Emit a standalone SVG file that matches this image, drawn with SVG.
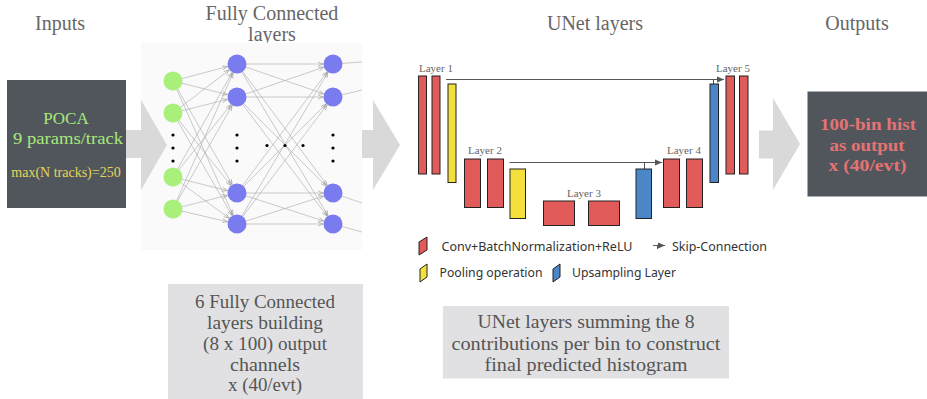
<svg xmlns="http://www.w3.org/2000/svg" width="927" height="399" viewBox="0 0 927 399">
<style>
.title{font-family:"Liberation Serif",serif;font-size:20px;fill:#666;text-anchor:middle}
.lbl{font-family:"Liberation Serif",serif;font-size:11px;fill:#666}
.note{font-family:"Liberation Serif",serif;font-size:18px;fill:#555;text-anchor:middle}
.leg{font-family:"Noto Sans","DejaVu Sans",sans-serif;font-size:13px;fill:#333}
.inp{font-family:"Liberation Serif",serif;text-anchor:middle}
.outt{font-family:"Liberation Serif",serif;font-size:17px;font-weight:bold;fill:#e57373;text-anchor:middle}
.fc{stroke:#a8a8a8;stroke-width:0.6;fill:none;marker-end:url(#ah)}
.out{stroke:#a8a8a8;stroke-width:0.6;fill:none}
.g{fill:#a8f07a}
.b{fill:#7b7bf0}
.dot{fill:#000}
.red{fill:#e25b5b;stroke:#222;stroke-width:1}
.yel{fill:#f4e03c;stroke:#222;stroke-width:1}
.blu{fill:#4a86c8;stroke:#222;stroke-width:1}
.skip{stroke:#555;stroke-width:1;fill:none}
.bigarrow{fill:#d9d9d9}
.dark{fill:#51565d}
</style>
<defs>
<marker id="ah" markerUnits="userSpaceOnUse" markerWidth="20" markerHeight="6" refX="15" refY="2" orient="auto" overflow="visible">
<path d="M0,0 L5,2 L0,4" fill="none" stroke="#999" stroke-width="0.6"/>
</marker>
<marker id="sk" markerUnits="userSpaceOnUse" markerWidth="8" markerHeight="6" refX="7" refY="3" orient="auto" overflow="visible">
<path d="M0,0 L7,3 L0,6 z" fill="#555"/>
</marker>
</defs>

<!-- titles -->
<text class="title" x="60" y="30">Inputs</text>
<text class="title" x="272" y="20">Fully Connected</text>
<text class="title" x="272" y="41">layers</text>
<text class="title" x="595" y="30">UNet layers</text>
<text class="title" x="857" y="30">Outputs</text>

<!-- input box -->
<g id="inputs">
<rect class="dark" x="7" y="80" width="119" height="128"/>
<text class="inp" x="66" y="124" font-size="17" fill="#a8e87a">POCA</text>
<text class="inp" x="68" y="144" font-size="17" fill="#a8e87a" textLength="110" lengthAdjust="spacingAndGlyphs">9 params/track</text>
<text class="inp" x="66" y="177" font-size="14" fill="#e3d65a">max(N tracks)=250</text>
</g>

<!-- FC background -->
<rect x="141" y="43" width="221" height="207" fill="#fafafa"/>

<!-- big arrows -->
<g id="arrow1"><path class="bigarrow" d="M126,130 H141 V100 L167,145 L141,190 V158 H126 z"/></g>
<g id="arrow2"><path class="bigarrow" d="M362,130 H373 V100 L400,145 L373,190 V158 H362 z"/></g>
<g id="arrow3"><path class="bigarrow" d="M759,130.5 H773 V98 L800,144 L773,190 V158.5 H759 z"/></g>

<!-- FC connectors -->
<g id="fc-connectors">
<line class="fc" x1="173" y1="81" x2="237" y2="64"/>
<line class="fc" x1="173" y1="81" x2="237" y2="97"/>
<line class="fc" x1="173" y1="81" x2="237" y2="193"/>
<line class="fc" x1="173" y1="81" x2="237" y2="224"/>
<line class="fc" x1="173" y1="113" x2="237" y2="64"/>
<line class="fc" x1="173" y1="113" x2="237" y2="97"/>
<line class="fc" x1="173" y1="113" x2="237" y2="193"/>
<line class="fc" x1="173" y1="113" x2="237" y2="224"/>
<line class="fc" x1="173" y1="177" x2="237" y2="64"/>
<line class="fc" x1="173" y1="177" x2="237" y2="97"/>
<line class="fc" x1="173" y1="177" x2="237" y2="193"/>
<line class="fc" x1="173" y1="177" x2="237" y2="224"/>
<line class="fc" x1="173" y1="209" x2="237" y2="64"/>
<line class="fc" x1="173" y1="209" x2="237" y2="97"/>
<line class="fc" x1="173" y1="209" x2="237" y2="193"/>
<line class="fc" x1="173" y1="209" x2="237" y2="224"/>
<line class="fc" x1="237" y1="64" x2="333" y2="64"/>
<line class="fc" x1="237" y1="64" x2="333" y2="97"/>
<line class="fc" x1="237" y1="64" x2="333" y2="193"/>
<line class="fc" x1="237" y1="64" x2="333" y2="224"/>
<line class="fc" x1="237" y1="97" x2="333" y2="64"/>
<line class="fc" x1="237" y1="97" x2="333" y2="97"/>
<line class="fc" x1="237" y1="97" x2="333" y2="193"/>
<line class="fc" x1="237" y1="97" x2="333" y2="224"/>
<line class="fc" x1="237" y1="193" x2="333" y2="64"/>
<line class="fc" x1="237" y1="193" x2="333" y2="97"/>
<line class="fc" x1="237" y1="193" x2="333" y2="193"/>
<line class="fc" x1="237" y1="193" x2="333" y2="224"/>
<line class="fc" x1="237" y1="224" x2="333" y2="64"/>
<line class="fc" x1="237" y1="224" x2="333" y2="97"/>
<line class="fc" x1="237" y1="224" x2="333" y2="193"/>
<line class="fc" x1="237" y1="224" x2="333" y2="224"/>
<line class="out" x1="333" y1="64" x2="362" y2="62"/>
<line class="out" x1="333" y1="97" x2="362" y2="90"/>
<line class="out" x1="333" y1="193" x2="362" y2="203"/>
<line class="out" x1="333" y1="224" x2="362" y2="232"/>
</g>

<!-- FC nodes -->
<g id="fc-input-nodes">
<circle class="g" cx="173" cy="81" r="9.5"/>
<circle class="g" cx="173" cy="113" r="9.5"/>
<circle class="g" cx="173" cy="177" r="9.5"/>
<circle class="g" cx="173" cy="209" r="9.5"/>
<circle class="dot" cx="173" cy="135" r="1.6"/>
<circle class="dot" cx="173" cy="148" r="1.6"/>
<circle class="dot" cx="173" cy="161" r="1.6"/>
</g>
<g id="fc-hidden1">
<circle class="b" cx="237" cy="64" r="9.5"/>
<circle class="b" cx="237" cy="97" r="9.5"/>
<circle class="b" cx="237" cy="193" r="9.5"/>
<circle class="b" cx="237" cy="224" r="9.5"/>
<circle class="dot" cx="237" cy="135" r="1.6"/>
<circle class="dot" cx="237" cy="148" r="1.6"/>
<circle class="dot" cx="237" cy="161" r="1.6"/>
</g>
<g id="fc-mid-dots">
<circle class="dot" cx="267" cy="145.5" r="1.6"/>
<circle class="dot" cx="285" cy="145.5" r="1.6"/>
<circle class="dot" cx="303" cy="145.5" r="1.6"/>
</g>
<g id="fc-hidden2">
<circle class="b" cx="333" cy="64" r="9.5"/>
<circle class="b" cx="333" cy="97" r="9.5"/>
<circle class="b" cx="333" cy="193" r="9.5"/>
<circle class="b" cx="333" cy="224" r="9.5"/>
<circle class="dot" cx="333" cy="135" r="1.6"/>
<circle class="dot" cx="333" cy="148" r="1.6"/>
<circle class="dot" cx="333" cy="161" r="1.6"/>
</g>

<!-- UNet -->
<g id="unet-skip">
<path class="skip" d="M446,79.5 H724" marker-end="url(#sk)"/>
<path class="skip" d="M713.5,79.5 V84"/>
<path class="skip" d="M509.5,162.5 H662" marker-end="url(#sk)"/>
<path class="skip" d="M644.5,162.5 V169"/>
</g>
<g id="layer1">
<text class="lbl" x="419" y="71.5">Layer 1</text>
<rect class="red" x="418.5" y="76" width="8" height="98"/>
<rect class="red" x="432" y="76" width="8" height="98"/>
<rect class="yel" x="448" y="84" width="8" height="98.5"/>
</g>
<g id="layer2">
<text class="lbl" x="468" y="154">Layer 2</text>
<rect class="red" x="464.5" y="159" width="16" height="48.5"/>
<rect class="red" x="487.5" y="159" width="16" height="48.5"/>
<rect class="yel" x="510" y="169" width="15.5" height="49.5"/>
</g>
<g id="layer3">
<text class="lbl" x="567" y="196.5">Layer 3</text>
<rect class="red" x="543.5" y="201" width="31" height="24.5"/>
<rect class="red" x="588.5" y="201" width="31" height="24.5"/>
</g>
<g id="layer4">
<rect class="blu" x="636" y="169" width="15.5" height="49.5"/>
<text class="lbl" x="667" y="154">Layer 4</text>
<rect class="red" x="663.5" y="159" width="16" height="48.5"/>
<rect class="red" x="686.5" y="159" width="16" height="48.5"/>
</g>
<g id="layer5">
<rect class="blu" x="710" y="84" width="8.5" height="98.5"/>
<text class="lbl" x="716" y="71.5">Layer 5</text>
<rect class="red" x="726" y="76" width="8.5" height="98"/>
<rect class="red" x="739.5" y="76" width="8.5" height="98"/>
</g>

<!-- legend -->
<g id="legend">
<polygon class="red" points="419,242 427,237 427,250 419,255" stroke-width="0.6"/>
<text class="leg" x="441.5" y="250.5" textLength="191" lengthAdjust="spacingAndGlyphs">Conv+BatchNormalization+ReLU</text>
<path d="M653,245.5 H665" stroke="#333" stroke-width="0.8" marker-end="url(#sk)"/>
<path d="M657.5,245.5 V249" stroke="#333" stroke-width="0.8"/>
<text class="leg" x="672" y="250.5" textLength="95" lengthAdjust="spacingAndGlyphs">Skip-Connection</text>
<polygon class="yel" points="420,269 427,264 427,277 420,282" stroke-width="0.6"/>
<text class="leg" x="439.5" y="277" textLength="103" lengthAdjust="spacingAndGlyphs">Pooling operation</text>
<polygon class="blu" points="553,269 560,264 560,277 553,282" stroke-width="0.6"/>
<text class="leg" x="572" y="277" textLength="104" lengthAdjust="spacingAndGlyphs">Upsampling Layer</text>
</g>

<!-- outputs -->
<g id="outputs">
<rect class="dark" x="807.5" y="91.5" width="119.5" height="105"/>
<text class="outt" x="868" y="130" textLength="96" lengthAdjust="spacingAndGlyphs">100-bin hist</text>
<text class="outt" x="867" y="150.5" textLength="75" lengthAdjust="spacingAndGlyphs">as output</text>
<text class="outt" x="867.5" y="170.5" textLength="78" lengthAdjust="spacingAndGlyphs">x (40/evt)</text>
</g>

<!-- notes -->
<g id="fc-note">
<rect x="168" y="284" width="195" height="115" fill="#e1e1e3"/>
<text class="note" x="265" y="307.5" textLength="140" lengthAdjust="spacingAndGlyphs">6 Fully Connected</text>
<text class="note" x="265" y="329" textLength="116" lengthAdjust="spacingAndGlyphs">layers building</text>
<text class="note" x="265" y="350" textLength="124" lengthAdjust="spacingAndGlyphs">(8 x 100) output</text>
<text class="note" x="265" y="370.5" textLength="70" lengthAdjust="spacingAndGlyphs">channels</text>
<text class="note" x="265" y="390.5" textLength="74" lengthAdjust="spacingAndGlyphs">x (40/evt)</text>
</g>
<g id="unet-note">
<rect x="443" y="306" width="286" height="72.5" fill="#e1e1e3"/>
<text class="note" x="586" y="327.5" textLength="217" lengthAdjust="spacingAndGlyphs">UNet layers summing the 8</text>
<text class="note" x="586" y="349.5" textLength="269" lengthAdjust="spacingAndGlyphs">contributions per bin to construct</text>
<text class="note" x="586" y="371" textLength="203" lengthAdjust="spacingAndGlyphs">final predicted histogram</text>
</g>
</svg>
